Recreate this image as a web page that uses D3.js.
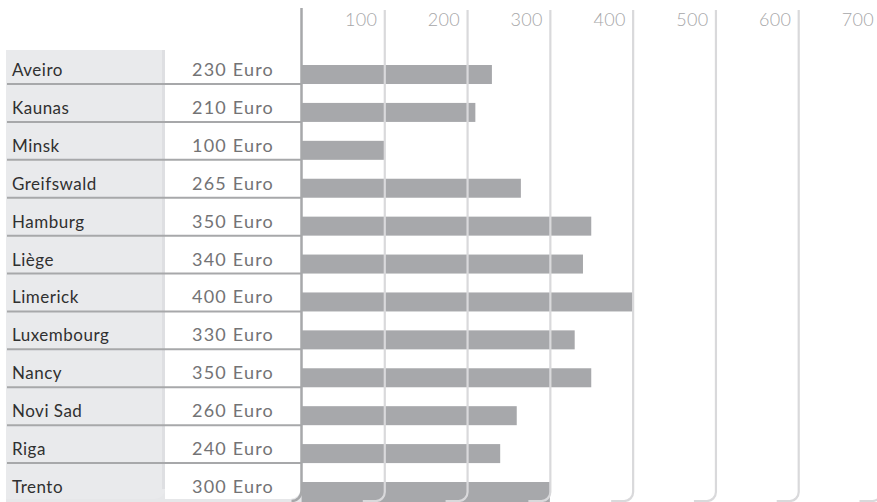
<!DOCTYPE html>
<html>
<head>
<meta charset="utf-8">
<script src="https://cdn.jsdelivr.net/npm/d3@7"></script>
<style>
  body { margin: 0; background: #fff; }
  svg { display: block; }
</style>
</head>
<body>
<script>
const cities = ["Aveiro", "Kaunas", "Minsk", "Greifswald", "Hamburg", "Liège",
                "Limerick", "Luxembourg", "Nancy", "Novi Sad", "Riga", "Trento"]
const rents = [230, 210, 100, 265, 350, 340, 400, 330, 350, 260, 240, 300]
const tickValues = [100, 200, 300, 400, 500, 600, 700]

const w = 877
const h = 502
const axisX = 301.5
const labelLeft = 6
const labelRight = 165
const bottom = 501

const svg = d3.select("body")
              .append("svg")
              .attr("width", w)
              .attr("height", h)

const x = d3.scaleLinear()
            .domain([0, 700])
            .range([axisX, 881])

const y = d3.scaleBand()
            .domain(cities)
            .range([46.1, bottom])

const data = cities.map((c, i) => ({city: c, rent: rents[i]}))
const last = cities[cities.length - 1]

// soft grey strip at the very bottom of the table
svg.append("rect")
   .attr("x", labelLeft)
   .attr("y", 490)
   .attr("width", axisX - labelLeft)
   .attr("height", h - 490)
   .attr("fill", "#e6e7e9")

// label column background
svg.append("path")
   .attr("d", () => {
     const t = 50, r = 10, b = bottom - 2
     return `M${labelLeft},${t}H${labelRight}V${b - r}A${r},${r} 0 0 1 ${labelRight - r},${b}H${labelLeft}Z`
   })
   .attr("fill", "#e9eaec")

svg.append("line")
   .attr("x1", labelRight - 1.5).attr("x2", labelRight - 1.5)
   .attr("y1", 50).attr("y2", bottom - 12)
   .attr("stroke", "#dedfe2")
   .attr("stroke-width", 3)

// value column background, rounded at the bottom right
svg.append("path")
   .attr("d", () => {
     const r = 10, b = bottom - 2, t = y(last)
     return `M${labelRight},${t}H${axisX - 1}V${b - r}A${r},${r} 0 0 1 ${axisX - 1 - r},${b}H${labelRight}Z`
   })
   .attr("fill", "#fff")

// bars, sitting on the bottom of each row
svg.selectAll("rect.bar")
   .data(data)
   .enter()
   .append("rect")
   .attr("class", "bar")
   .attr("x", x(0))
   .attr("y", d => y(d.city) + y.bandwidth() - 19)
   .attr("width", d => x(d.rent) - x(0))
   .attr("height", d => d.city == last ? 20 : 19)
   .attr("fill", "#a7a8ab")

// grid lines with rounded feet, drawn over the bars
svg.selectAll("path.grid")
   .data(tickValues)
   .enter()
   .append("path")
   .attr("class", "grid")
   .attr("d", d => {
     const gx = x(d) + 0.5, r = 9, b = bottom
     return `M${gx},10V${b - r}A${r},${r} 0 0 1 ${gx - r},${b}H${gx - 22}`
   })
   .attr("fill", "none")
   .attr("stroke", "#d9d9db")
   .attr("stroke-width", 2.2)

// tick labels along the top
svg.selectAll("text.tick")
   .data(tickValues)
   .enter()
   .append("text")
   .attr("class", "tick")
   .attr("x", d => x(d) - 7)
   .attr("y", 26)
   .attr("text-anchor", "end")
   .attr("font-family", "Lato, sans-serif")
   .attr("font-weight", 300)
   .attr("font-size", 18)
   .attr("letter-spacing", 0.3)
   .attr("fill", "#a6a6a8")
   .text(d => d)

// row separators
svg.selectAll("line.sep")
   .data(cities.slice(0, -1))
   .enter()
   .append("line")
   .attr("class", "sep")
   .attr("x1", labelLeft + 1)
   .attr("x2", axisX)
   .attr("y1", d => y(d) + y.bandwidth())
   .attr("y2", d => y(d) + y.bandwidth())
   .attr("stroke", "#a7a8aa")
   .attr("stroke-width", 2)

// main axis line
svg.append("path")
   .attr("d", () => {
     const r = 10, b = bottom
     return `M${axisX},8V${b - r}A${r},${r} 0 0 1 ${axisX - r},${b}`
   })
   .attr("fill", "none")
   .attr("stroke", "#a7a8aa")
   .attr("stroke-width", 2.5)

// city names
svg.selectAll("text.city")
   .data(data)
   .enter()
   .append("text")
   .attr("class", "city")
   .attr("x", 12)
   .attr("y", d => y(d.city) + y.bandwidth() - 8)
   .attr("font-family", "Lato, sans-serif")
   .attr("font-size", 17)
   .attr("letter-spacing", 0.5)
   .attr("fill", "#303030")
   .text(d => d.city)

// rent values
svg.selectAll("text.value")
   .data(data)
   .enter()
   .append("text")
   .attr("class", "value")
   .attr("x", 233)
   .attr("y", d => y(d.city) + y.bandwidth() - 8)
   .attr("text-anchor", "middle")
   .attr("font-family", "Lato, sans-serif")
   .attr("font-size", 18)
   .attr("letter-spacing", 1.2)
   .attr("fill", "#737375")
   .text(d => d.rent + " Euro")
</script>
</body>
</html>
